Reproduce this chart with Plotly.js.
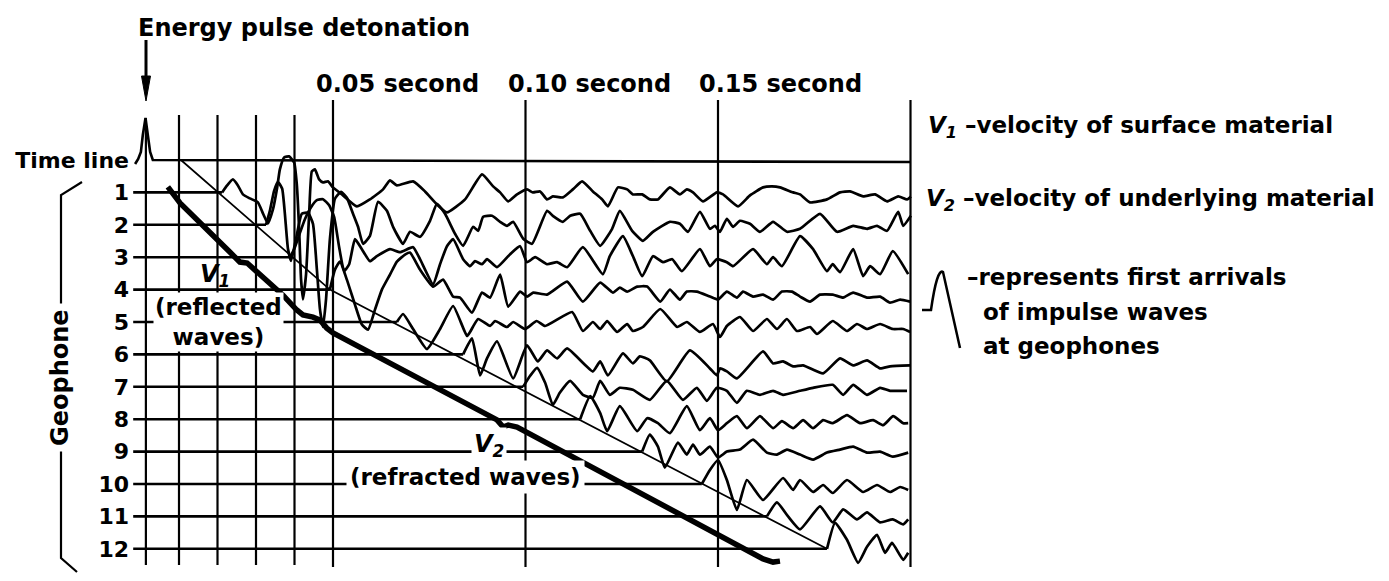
<!DOCTYPE html>
<html><head><meta charset="utf-8">
<script src="https://cdn.plot.ly/plotly-3.0.1.min.js"></script>
<style>html,body{margin:0;padding:0;background:#fff}#chart{width:1389px;height:581px}</style>
</head><body><div id="chart"></div>
<script>
// ---------------- DATA ----------------
// time in milliseconds, geophone index 0 = time line, 1..12 = geophones
const rowLabels = ['Time line','1','2','3','4','5','6','7','8','9','10','11','12'];
const rowValues = [0,1,2,3,4,5,6,7,8,9,10,11,12];
const minorTimesMs = [10, 20, 30, 40];
const secondTimesMs = [50, 100, 150, 200];
const secondLabels = ['0.05 second', '0.10 second', '0.15 second'];
const detonationMs = 1.4;
// amplitudes in trace units (32.4 units = one geophone spacing), positive = up
const AMP_PER_ROW = 32.4;
const pulseT = [-1.4, -0.6, 0.1, 0.6, 1.3, 1.9, 2.5, 3.2, 200];
const pulseA = [-4, 1, 8, 25, 42, 25, 8, 0, -2];

const t1 = [21.2,22.5,24.0,25.3,26.6,28.4,30.5,31.8,33.1,34.4,35.5,36.2,37.3,38.6,39.9,40.6,41.2,41.7,42.2,43.0,43.8,44.5,45.3,46.4,47.4,48.7,50.0,52.6,56.2,59.6,63.0,64.8,66.6,70.8,73.9,77.0,79.6,84.3,88.7,91.6,93.4,95.5,97.8,100.4,101.9,103.8,105.6,107.1,109.7,112.3,114.7,117.5,119.9,121.4,124.0,126.4,127.9,130.3,132.3,134.4,137.5,140.1,141.9,143.5,146.1,149.7,151.3,155.2,158.3,161.7,164.0,166.1,169.5,171.3,173.9,178.3,181.7,184.3,187.7,190.8,193.9,196.8,199.1,200.1];
const a1 = [0,7,13,7,-2,-6,-10,-21,-31,-17,5,23,35,36,30,8,-37,-87,-107,-82,-22,21,23,13,10,11,5,-3,-14,-7,3,12,7,11,1,-12,-20,-7,18,6,0,-9,-2,3,0,1,-7,-4,-5,3,11,1,-7,-14,5,3,-2,-2,-7,-7,5,-2,3,0,-9,0,-2,-14,-3,5,6,5,0,-2,-10,-7,0,1,-4,-2,-9,-4,-7,-4];
const t2 = [32.6,33.6,34.7,35.7,36.8,37.5,38.3,39.1,40.4,41.9,43.5,44.8,45.8,46.6,47.4,48.2,49.2,50.5,52.1,53.6,55.2,56.5,57.8,59.6,61.7,64.0,65.6,68.2,70.0,72.6,75.2,77.0,79.1,81.7,83.8,86.4,87.7,89.0,91.3,93.4,95.2,96.8,99.4,101.7,105.6,107.1,109.7,111.6,114.2,116.8,119.4,122.5,124.5,127.7,130.5,133.1,137.5,140.1,142.2,145.3,147.9,149.2,150.5,152.3,153.9,155.7,158.3,160.9,164.3,167.9,171.3,176.5,180.9,185.1,188.7,191.3,193.9,196.8,198.1,200.1];
const a2 = [0,14,34,43,36,11,-24,-36,-14,11,12,1,-44,-84,-102,-74,-14,26,33,27,11,-2,-19,-11,23,14,-2,-19,-7,-12,4,21,11,-9,-21,-2,-6,8,9,3,-1,3,-14,-19,14,9,3,9,11,-6,-21,-4,14,-6,-16,-7,3,1,-7,13,-4,-1,-7,6,-2,4,1,-7,3,-7,-4,11,-7,-1,-4,-1,-6,13,-1,9];
const t3 = [38.8,39.9,41.2,42.7,44.3,45.8,47.4,49.0,50.3,51.6,52.9,54.2,55.7,57.5,59.6,61.4,64.8,67.4,70.8,72.6,76.0,77.8,79.6,81.2,83.8,85.6,86.9,88.7,90.0,92.6,96.0,98.6,100.4,102.5,105.6,108.2,110.8,114.9,120.1,121.9,125.3,127.9,130.3,133.1,135.7,138.1,140.6,145.3,147.9,149.7,152.3,153.9,159.1,162.7,164.3,166.6,171.3,174.7,178.3,179.8,181.7,185.1,187.7,189.5,192.1,195.4,199.4];
const a3 = [0,8,22,38,50,57,58,52,40,10,-14,-7,18,8,-4,1,8,5,10,-2,-27,-7,11,18,-2,-9,-4,-7,-2,-10,3,11,-5,0,-7,-5,-10,10,-17,1,21,1,-19,1,-5,-2,-14,8,-9,-2,-5,-9,8,-7,0,-9,21,8,-14,-7,-15,8,-19,-9,-17,6,-17];
const t4 = [49.2,50.5,51.8,53.6,55.7,57.5,59.1,60.9,62.7,64.8,66.6,68.7,70.0,72.6,76.0,78.6,81.2,83.0,86.1,88.7,90.8,93.4,95.5,98.6,100.4,102.0,105.6,110.8,114.9,119.4,122.7,124.5,126.4,129.0,131.6,135.0,137.5,140.1,141.9,144.5,147.9,150.0,152.3,154.9,156.5,159.1,161.7,164.3,166.6,169.2,171.3,173.9,176.5,179.8,182.5,185.1,188.7,192.1,194.7,197.3,199.9];
const a4 = [0,20,28,10,-15,-35,-40,-20,0,15,28,35,37,20,3,10,-7,-8,-23,-3,-8,15,-17,-2,-7,-3,-5,8,-12,7,-3,2,-2,3,3,-12,0,-10,-2,-2,-7,-10,-2,-8,-2,-7,-5,-10,-2,-2,-7,-12,-5,-5,-8,-3,-8,-7,-13,-10,-12];
const t5 = [66.6,68.2,70.8,74.4,77.8,81.2,84.8,85.6,87.7,90.8,92.1,95.2,96.8,99.9,102.9,105.1,112.1,114.9,117.5,119.4,121.2,123.8,126.4,127.9,130.5,135.0,139.4,141.9,145.3,148.7,150.5,152.3,155.7,159.1,162.7,165.3,167.9,170.5,173.9,175.7,179.8,183.5,186.1,188.7,192.1,195.4,198.1,199.9];
const a5 = [0,8,-7,-27,-7,16,-14,-10,3,-4,1,-5,0,-7,1,-4,10,-9,0,-7,1,-10,-2,-9,-5,13,-5,0,-10,-2,-15,-4,5,-9,3,-7,3,-9,-5,-12,1,-9,-2,-7,-2,-7,-7,-10];
const t6 = [83.8,86.1,88.2,90.0,92.6,96.8,100.4,103.2,105.6,108.2,110.8,117.5,119.4,121.4,125.3,127.9,129.7,132.3,136.7,142.7,147.9,149.7,150.5,152.3,154.9,161.7,164.3,166.9,169.5,172.1,177.3,181.7,185.1,188.7,192.1,194.7,199.9];
const a6 = [0,16,-21,-4,13,-24,9,-7,4,-4,6,-17,-7,-21,1,-9,-2,-6,-27,4,-14,-21,-14,-17,-24,3,-9,-7,-12,-11,-19,-4,-11,-6,-14,-12,-11];
const t7 = [99.4,101.2,103.0,105.1,107.1,108.9,111.6,114.9,117.5,119.4,121.9,124.5,127.9,132.3,136.7,140.9,144.5,147.1,149.7,152.3,154.9,157.5,160.9,164.3,166.9,171.3,174.7,179.8,182.5,185.1,188.7,192.1,194.7,199.1];
const a7 = [0,11,19,4,-18,-6,6,-8,-11,6,-8,-1,-3,-13,6,-13,-1,-14,-1,-4,-16,-4,-8,-4,-8,-4,-1,2,-8,2,-8,-1,-4,-4];
const t8 = [114.2,116.8,119.4,121.2,124.5,129.0,131.6,134.4,137.5,141.9,145.3,147.9,150.0,152.3,154.9,157.5,160.9,164.3,166.6,169.5,172.1,174.7,177.3,179.8,183.5,186.9,190.3,192.9,195.5,198.1,199.4];
const a8 = [0,23,6,-12,13,-12,1,-4,-14,13,-11,1,-11,-4,3,-9,3,-9,-2,-9,-1,-9,-1,-4,4,-4,-1,-6,3,-4,-4];
const t9 = [130.3,132.3,134.4,136.2,139.6,141.9,143.5,145.3,147.9,150.0,152.3,155.7,159.1,162.7,165.3,167.9,171.3,174.7,178.3,181.7,185.1,188.7,192.1,195.4,199.4];
const a9 = [0,17,5,-16,9,-3,7,-3,5,-6,0,2,12,-1,-3,2,-3,-8,-1,2,5,-1,0,-5,-1];
const t10 = [145.8,147.9,150.0,152.3,154.9,157.5,161.7,166.9,169.5,171.3,174.7,177.3,179.8,183.5,187.7,191.3,194.7,197.3,199.4];
const a10 = [0,14,24,4,-26,4,-16,6,-6,4,-8,-1,-9,4,-8,-1,-8,-3,-6];
const t11 = [162.7,165.3,168.2,171.3,176.5,179.8,182.5,186.1,188.7,192.1,195.4,198.1,199.4];
const a11 = [0,14,0,-13,10,-6,7,-3,4,-6,-3,-8,-3];
const t12 = [178.3,180.4,183.5,186.4,188.7,191.3,193.4,195.2,198.1,199.4];
const a12 = [0,26,9,-14,2,14,-4,6,-11,-4];

// first-arrival (onset) line and the thick first-arrival curve
const onsetLineT = [10.5, 49.2, 178.3];
const onsetLineG = [0, 4, 12];
const arrivalT = [7.1,10.3,23.2,24.5,25.8,27.7,30.3,37.0,40.6,42.2,44.8,46.6,48.4,50.0,92.6,94.2,95.5,97.8,161.7,164.3,166.1];
const arrivalG = [0.83,1.33,2.84,2.99,3.15,3.18,3.46,4.17,4.63,4.78,4.85,4.94,5.19,5.34,8.02,8.24,8.18,8.24,12.31,12.41,12.38];

// ---------------- DRAWING ----------------
const LINE_START = -1.9;
const traceT = [t1,t2,t3,t4,t5,t6,t7,t8,t9,t10,t11,t12];
const traceA = [a1,a2,a3,a4,a5,a6,a7,a8,a9,a10,a11,a12];
const INK = '#000';
const FONT = 'DejaVu Sans';

const data = [];
// time line with detonation pulse
data.push({x: pulseT, y: pulseA.map(a => -a / AMP_PER_ROW), mode:'lines',
  line:{color:INK, width:2.6}, hoverinfo:'skip'});
// geophone baselines (before first arrival) and traces
traceT.forEach((ts, i) => {
  const g = i + 1;
  data.push({x: [LINE_START, ts[0]], y: [g, g], mode:'lines',
    line:{color:INK, width:2.6}, hoverinfo:'skip'});
  data.push({
    x: ts,
    y: traceA[i].map(a => g - a / AMP_PER_ROW),
    mode:'lines', line:{color:INK, width:2.7, shape:'spline', smoothing:0.45}, hoverinfo:'skip'
  });
});
data.push({x: onsetLineT, y: onsetLineG, mode:'lines', line:{color:INK, width:1.7}, hoverinfo:'skip'});
data.push({x: arrivalT, y: arrivalG, mode:'lines', line:{color:INK, width:5.5}, hoverinfo:'skip'});

// page geometry helpers for decorations/text (pixels -> paper)
const W = 1389, H = 581, ML = 133;
const PX = v => (v - ML) / (W - ML);
const PY = v => 1 - v / H;
const G = py => (py - 160) / AMP_PER_ROW; // pixel row -> geophone units (layout only)

const shapes = [];
minorTimesMs.forEach(t => shapes.push({type:'line', xref:'x', yref:'y', x0:t, x1:t, y0:G(115), y1:G(565), line:{color:INK, width:2.2}}));
secondTimesMs.forEach(t => shapes.push({type:'line', xref:'x', yref:'y', x0:t, x1:t, y0:G(100), y1:G(567), line:{color:INK, width:2.2}}));
shapes.push({type:'line', xref:'x', yref:'y', x0:detonationMs, x1:detonationMs, y0:G(118), y1:G(565), line:{color:INK, width:2.2}});
// arrow
shapes.push({type:'line', xref:'paper', yref:'paper', x0:PX(146), x1:PX(146), y0:PY(40), y1:PY(80), line:{color:INK, width:3}});
shapes.push({type:'path', xref:'paper', yref:'paper',
  path:`M${PX(141.5)},${PY(76)} L${PX(150.5)},${PY(76)} L${PX(146)},${PY(101)} Z`, fillcolor:INK, line:{color:INK, width:1}});
// bracket
shapes.push({type:'path', xref:'paper', yref:'paper',
  path:`M${PX(82)},${PY(182)} L${PX(61)},${PY(195)} L${PX(61)},${PY(558)} L${PX(77)},${PY(572)}`, line:{color:INK, width:2.2}});
// legend glyph
shapes.push({type:'path', xref:'paper', yref:'paper',
  path:`M${PX(922)},${PY(310)} L${PX(931)},${PY(310)} Q${PX(937)},${PY(268)} ${PX(943)},${PY(272)} L${PX(960)},${PY(348)}`, line:{color:INK, width:2.5}});

const txt = (text, x, y, opts={}) => Object.assign({
  text, x:PX(x), y:PY(y), xref:'paper', yref:'paper', showarrow:false,
  xanchor:'left', yanchor:'middle', font:{family:FONT, size:23, color:INK, weight:'bold'}, borderpad:0
}, opts);
const BIG = {family:FONT, size:24, color:INK, weight:'bold'};

const annotations = [
  txt('Energy pulse detonation', 137, 28, {font:BIG}),
  txt(secondLabels[0], 315, 84, {font:BIG}),
  txt(secondLabels[1], 507, 84, {font:BIG}),
  txt(secondLabels[2], 698, 84, {font:BIG}),
  txt('<i>V</i><sub><i>1</i></sub> –velocity of surface material', 927, 127),
  txt('<i>V</i><sub><i>2</i></sub> –velocity of underlying material', 925, 200),
  txt('–represents first arrivals', 966, 277),
  txt('of impulse waves', 982, 312),
  txt('at geophones', 982, 346),
  txt('<i>V</i><sub><i>1</i></sub>', 215, 275, {xanchor:'center', font:BIG}),
  txt('<i>V</i><sub><i>2</i></sub>', 489, 445, {xanchor:'center', bgcolor:'#fff', borderpad:2, font:BIG}),
  txt('(reflected<br>waves)', 218, 322, {xanchor:'center', align:'center', bgcolor:'#fff', borderpad:1}),
  txt('(refracted waves)', 465, 477, {xanchor:'center', bgcolor:'#fff', borderpad:3}),
  txt('Geophone', 60, 378, {xanchor:'center', textangle:-90, bgcolor:'#fff', borderpad:5, font:BIG})
];

const layout = {
  width: W, height: H,
  margin:{l:ML, r:0, t:0, b:0, pad:0},
  paper_bgcolor:'#fff', plot_bgcolor:'#fff', showlegend:false, hovermode:false,
  xaxis:{range:[(ML-140.5)/3.85, (W-140.5)/3.85], visible:false, fixedrange:true},
  yaxis:{range:[G(H), G(0)], tickvals: rowValues, ticktext: rowLabels,
    tickfont:{family:FONT, size:22, color:INK, weight:'bold'},
    showgrid:false, zeroline:false, showline:false, ticks:'', ticklabelstandoff:3, fixedrange:true},
  shapes, annotations
};
Plotly.newPlot('chart', data, layout, {staticPlot:true, displayModeBar:false});
</script>
</body></html>
